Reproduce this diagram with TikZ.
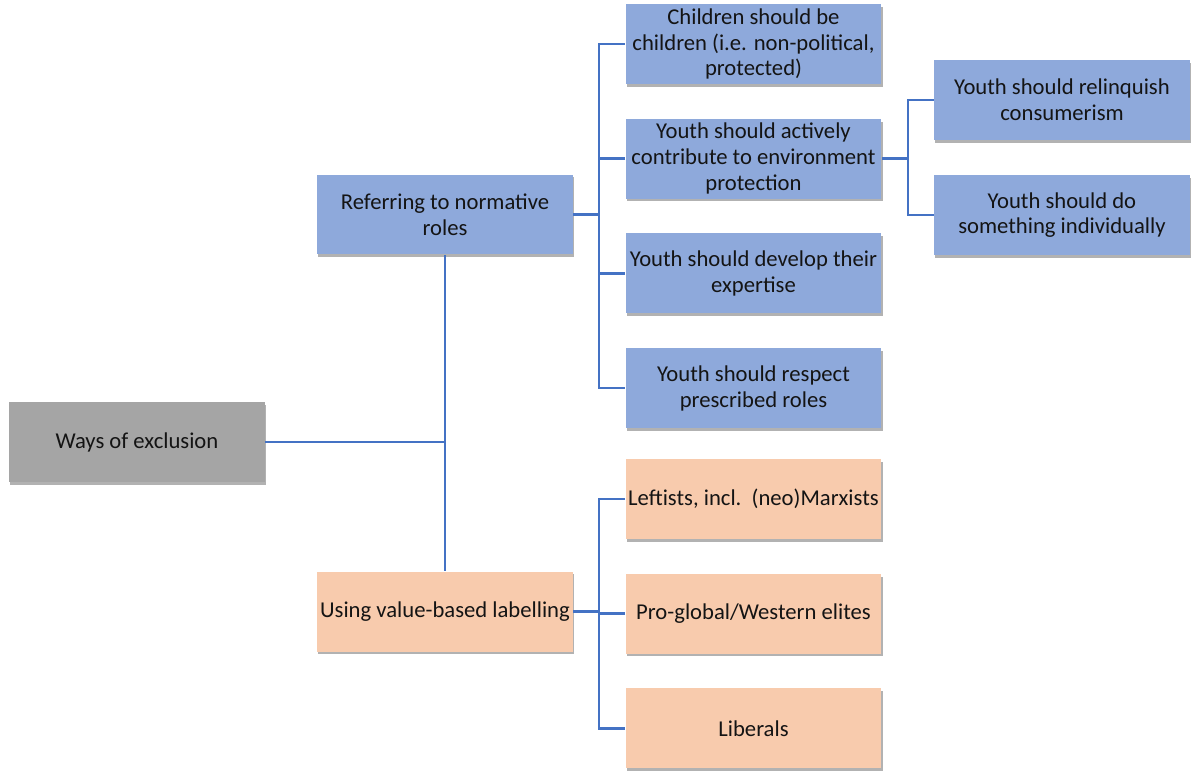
\documentclass[tikz,border=0pt]{standalone}
\usepackage{fontspec}
\setmainfont{Carlito}
\usepackage{tikz}
\usetikzlibrary{positioning,shadows}
\usepackage{xcolor}
\definecolor{boxblue}{HTML}{8EA9DB}
\definecolor{boxgrey}{HTML}{A5A5A5}
\definecolor{boxorange}{HTML}{F8CBAD}
\definecolor{linkblue}{HTML}{4472C4}

\begin{document}
\begin{tikzpicture}[
    x=0.02cm, y=-0.02cm,
    node distance=0.68cm and 1.04cm,
    box/.style={
        rectangle, minimum width=5.12cm, minimum height=1.6cm,
        inner sep=0pt, align=center, text=black!92,
        font=\fontsize{12.9}{14.7}\selectfont,
        drop shadow={shadow xshift=0.6pt, shadow yshift=-1.6pt, opacity=0.3, fill=black}
    },
    rolebox/.style={box, fill=boxblue},
    rootbox/.style={box, fill=boxgrey},
    labelbox/.style={box, fill=boxorange},
    link/.style={draw=linkblue, line width=1.4pt}
]
    \useasboundingbox (0,0) rectangle (1200,781);

    % Root and the two ways
    \node[rootbox] (ways) at (137,442) {Ways of exclusion};
    \node[rolebox] (refer) at (445,214.5) {Referring to normative\\roles};
    \node[labelbox] (label) at (445,611.5) {Using value-based labelling};

    % Normative roles
    \node[rolebox] (child) at (753.5,44) {Children should be\\children (i.e. non-political,\\protected)};
    \node[rolebox, below=of child] (active) {Youth should actively\\contribute to environment\\protection};
    \node[rolebox, below=of active] (expert) {Youth should develop their\\expertise};
    \node[rolebox, below=of expert] (respect) {Youth should respect\\prescribed roles};

    % Environment protection
    \node[rolebox] (consum) at (1062,100) {Youth should relinquish\\consumerism};
    \node[rolebox] (indiv) at (1062,215) {Youth should do\\something individually};

    % Labels
    \node[labelbox] (left) at (753.5,499) {Leftists, incl.\ \ (neo)Marxists};
    \node[labelbox, below=of left] (elite) {Pro-global/Western elites};
    \node[labelbox, below=of elite] (liberal) {Liberals};

    % Bus lines
    \coordinate (bus1) at (599,0);
    \coordinate (bus2) at (908,0);

    % Connectors
    \draw[link] (ways.east) -- (ways -| refer);
    \draw[link] (refer.south) -- (label.north);

    \draw[link] (refer.east) -- (refer -| bus1);
    \draw[link] (child.west) -- (child -| bus1) -- (respect -| bus1) -- (respect.west);
    \foreach \n in {active,expert}
        \draw[link] (\n.west) -- (\n -| bus1);

    \draw[link] (label.east) -- (label -| bus1);
    \draw[link] (left.west) -- (left -| bus1) -- (liberal -| bus1) -- (liberal.west);
    \draw[link] (elite.west) -- (elite -| bus1);

    \draw[link] (active.east) -- (active -| bus2);
    \draw[link] (consum.west) -- (consum -| bus2) -- (indiv -| bus2) -- (indiv.west);

\end{tikzpicture}
\end{document}
